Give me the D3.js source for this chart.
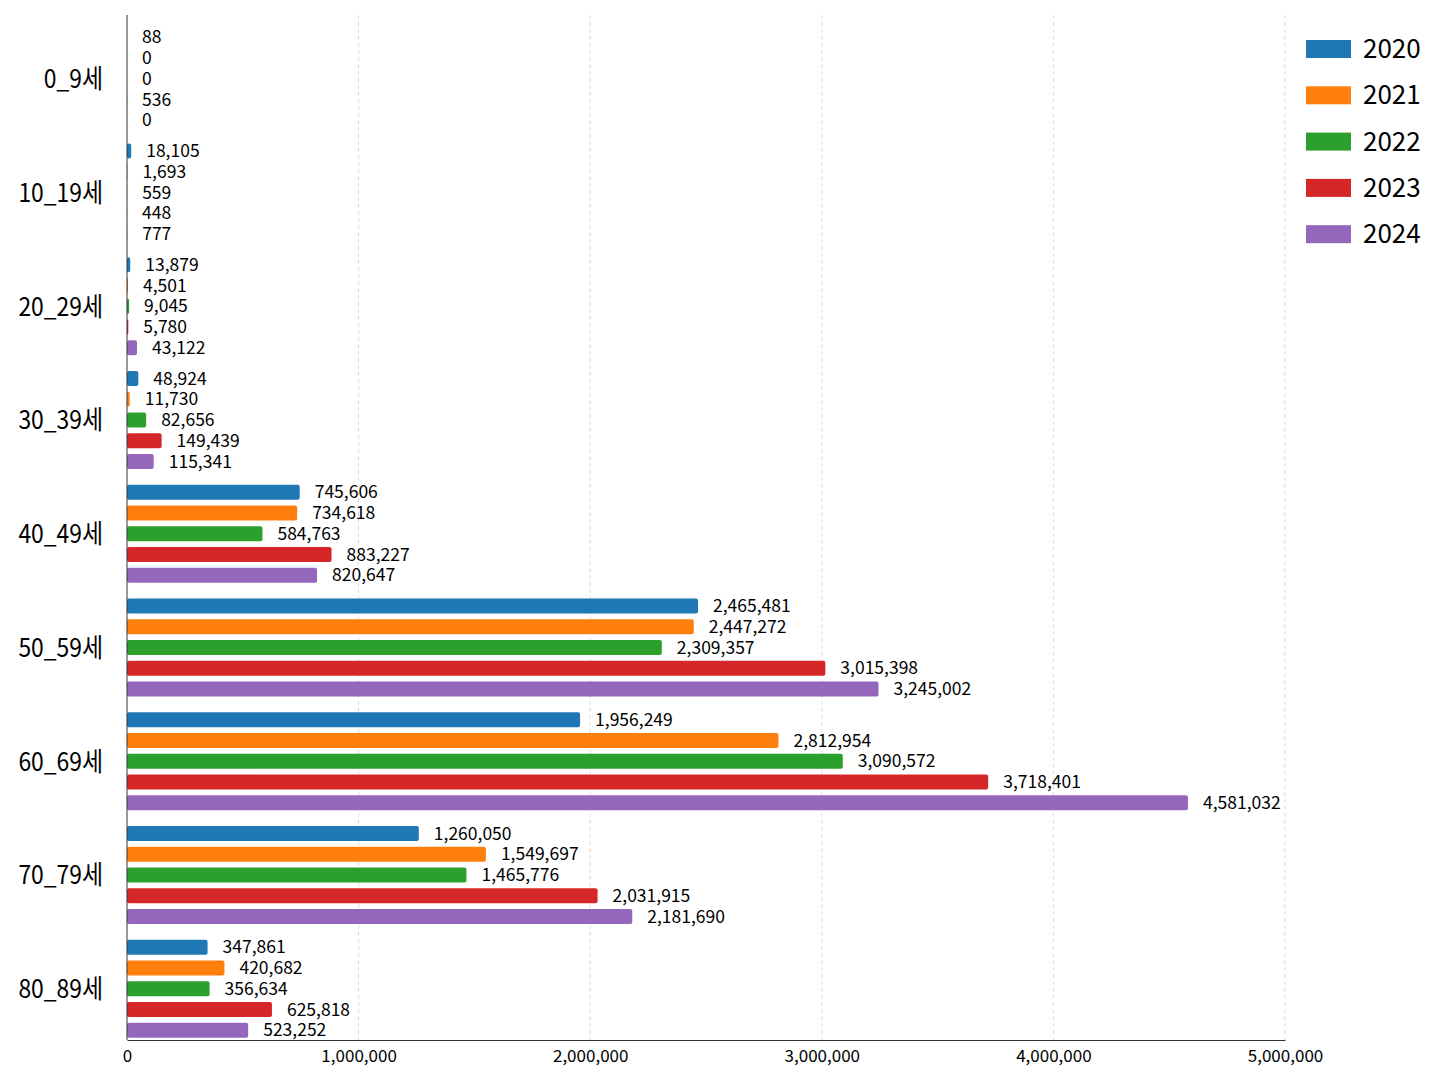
<!DOCTYPE html>
<html><head><meta charset="utf-8">
<script src="https://cdn.jsdelivr.net/npm/d3@7"></script>
<style>body{margin:0;background:#fff}</style></head>
<body><svg id="chart"></svg>
<script>
// 연령대별 연도별 값
const years = ['2020', '2021', '2022', '2023', '2024'];
const data = [
    { group: '0_9세',   values: [88, 0, 0, 536, 0] },
    { group: '10_19세', values: [18105, 1693, 559, 448, 777] },
    { group: '20_29세', values: [13879, 4501, 9045, 5780, 43122] },
    { group: '30_39세', values: [48924, 11730, 82656, 149439, 115341] },
    { group: '40_49세', values: [745606, 734618, 584763, 883227, 820647] },
    { group: '50_59세', values: [2465481, 2447272, 2309357, 3015398, 3245002] },
    { group: '60_69세', values: [1956249, 2812954, 3090572, 3718401, 4581032] },
    { group: '70_79세', values: [1260050, 1549697, 1465776, 2031915, 2181690] },
    { group: '80_89세', values: [347861, 420682, 356634, 625818, 523252] }
];
const colors = ['#1f77b4', '#ff7f0e', '#2ca02c', '#d62728', '#9467bd'];
const font = "'Noto Sans CJK KR', 'Noto Sans', sans-serif";

const width = 1448, height = 1086;
const svg = d3.select('#chart').attr('width', width).attr('height', height);

const x = d3.scaleLinear().domain([0, 5000000]).range([127, 1285]);
const y0 = d3.scaleBand().domain(data.map(d => d.group)).range([27, 27 + 9 * 113.75]);
const y1 = d3.scaleBand().domain(years).range([0, 103.5]);
const barH = 15;

// 격자선
svg.append('g').selectAll('line')
    .data(d3.range(1000000, 5000001, 1000000))
    .join('line')
    .attr('x1', d => x(d)).attr('x2', d => x(d))
    .attr('y1', 15).attr('y2', 1040)
    .attr('stroke', '#ddd').attr('stroke-dasharray', '4,3');

// 막대
const g = svg.append('g').selectAll('g')
    .data(data).join('g')
    .attr('transform', d => `translate(0,${y0(d.group)})`);

const bars = g.selectAll('g.bar')
    .data(d => d.values.map((v, i) => ({ v, i })))
    .join('g').attr('class', 'bar');

bars.append('rect')
    .attr('x', x(0))
    .attr('y', d => y1(years[d.i]) + (y1.bandwidth() - barH) / 2)
    .attr('width', d => x(d.v) - x(0))
    .attr('height', barH)
    .attr('rx', 2)
    .attr('fill', d => colors[d.i]);

bars.append('text')
    .attr('x', d => x(d.v) + 15)
    .attr('y', d => y1(years[d.i]) + y1.bandwidth() / 2)
    .attr('dy', '0.35em')
    .attr('font-family', font).attr('font-size', 17.5)
    .text(d => d3.format(',')(d.v));

// 그룹 라벨 (좁은 글꼴 느낌)
svg.append('g').selectAll('text')
    .data(data).join('text')
    .attr('transform', d => `translate(103,${y0(d.group) + 52}) scale(0.88,1)`)
    .attr('dy', '0.35em')
    .attr('text-anchor', 'end')
    .attr('font-family', font).attr('font-size', 26)
    .text(d => d.group);

// 축
const xAxis = svg.append('g')
    .attr('transform', 'translate(0,1040)')
    .call(d3.axisBottom(x).tickValues(d3.range(0, 5000001, 1000000)).tickFormat(d3.format(',')).tickSize(0).tickPadding(10));
xAxis.select('.domain').attr('stroke', '#333');
xAxis.selectAll('text').attr('font-family', font).attr('font-size', 17).attr('fill', '#000');

svg.append('line')
    .attr('x1', 127).attr('x2', 127).attr('y1', 15).attr('y2', 1040)
    .attr('stroke', '#333');

// 범례
const legend = svg.append('g').selectAll('g')
    .data(years).join('g')
    .attr('transform', (d, i) => `translate(1306,${49 + i * 46.3})`);
legend.append('rect').attr('x', 0).attr('y', -9).attr('width', 45).attr('height', 18)
    .attr('fill', (d, i) => colors[i]);
legend.append('text').attr('x', 57).attr('dy', '0.35em')
    .attr('font-family', font).attr('font-size', 26)
    .text(d => d);
</script>
</body></html>
